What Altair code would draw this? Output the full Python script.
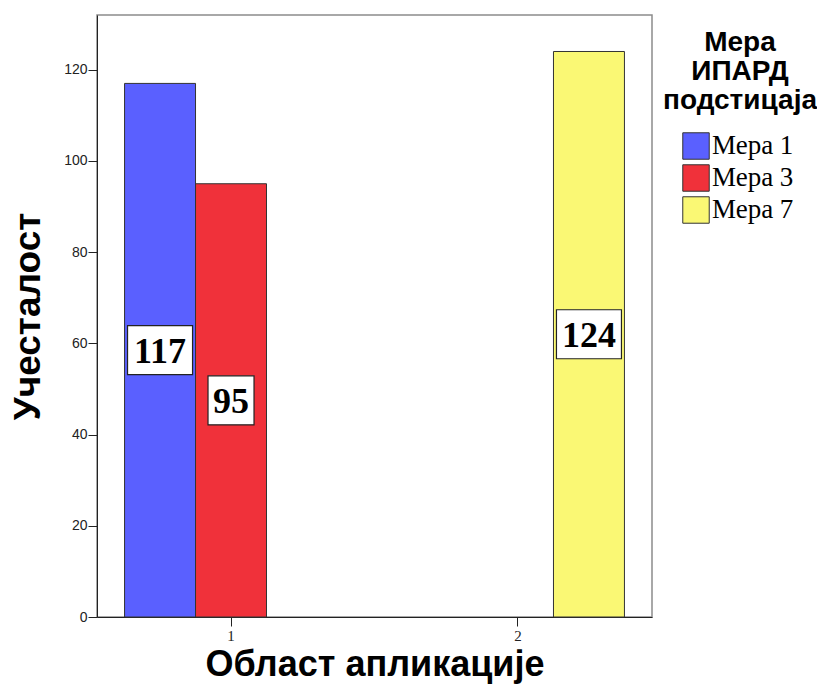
import altair as alt
import pandas as pd

# data
oblast = ["1", "1", "2"]
mera = ["Мера 1", "Мера 3", "Мера 7"]
ucestalost = [117, 95, 124]
mera_domain = ["Мера 1", "Мера 3", "Мера 7"]
mera_colors = ["#5A60FF", "#F0313A", "#FAF874"]
y_ticks = [0, 20, 40, 60, 80, 100, 120]

df = pd.DataFrame({"oblast": oblast, "mera": mera, "value": ucestalost})

x_enc = alt.X("oblast:N", title="Област апликације",
              scale=alt.Scale(paddingInner=0.258, paddingOuter=0.096),
              axis=alt.Axis(labelAngle=0, labelFont="Liberation Serif", labelFontSize=15,
                            labelColor="#222", tickSize=9, tickColor="#222",
                            domainColor="#222", labelPadding=2,
                            titleFont="Liberation Sans", titleFontSize=36,
                            titleFontWeight="bold", titleColor="#000", titlePadding=4))
xoff = alt.XOffset("mera:N", scale=alt.Scale(domain=mera_domain, paddingInner=0, paddingOuter=0))
y_scale = alt.Scale(domain=[0, 132], nice=False)

bars = alt.Chart(df).mark_bar(stroke="#333", strokeWidth=1).encode(
    x=x_enc,
    xOffset=xoff,
    y=alt.Y("value:Q", scale=y_scale, title="Учесталост",
            axis=alt.Axis(values=y_ticks, labelFont="Liberation Sans", labelFontSize=14,
                          labelColor="#222", tickSize=9, tickColor="#222", domainColor="#222",
                          labelPadding=1, grid=False,
                          titleFont="Liberation Sans", titleFontSize=37, titleFontWeight="bold",
                          titleColor="#000", titlePadding=16)),
    fill=alt.Fill("mera:N", scale=alt.Scale(domain=mera_domain, range=mera_colors),
                  legend=alt.Legend(title=["Мера", "ИПАРД", "подстицаја"], orient="none",
                                    legendX=566, legendY=14, padding=0,
                                    titleFont="Liberation Sans", titleFontSize=28,
                                    titleFontWeight="bold", titleColor="#000",
                                    titleLineHeight=29, titleAnchor="middle", titlePadding=17,
                                    symbolType="square", symbolSize=700,
                                    symbolStrokeColor="#333", symbolStrokeWidth=1,
                                    symbolOffset=-4,
                                    labelFont="Liberation Serif", labelFontSize=27,
                                    labelColor="#000", labelOffset=2, rowPadding=0)),
)

base_half = alt.Chart(df).transform_calculate(half="datum.value / 2")

box3 = base_half.transform_filter("datum.value >= 100").mark_bar(
    fill="white", stroke="#222", strokeWidth=1.2, width=65, yOffset=-24.5, y2Offset=24.5
).encode(x="oblast:N", xOffset=xoff, y=alt.Y("half:Q", scale=y_scale), y2="half:Q")

box2 = base_half.transform_filter("datum.value < 100").mark_bar(
    fill="white", stroke="#222", strokeWidth=1.2, width=46, yOffset=-24.5, y2Offset=24.5
).encode(x="oblast:N", xOffset=xoff, y=alt.Y("half:Q", scale=y_scale), y2="half:Q")

texts = base_half.mark_text(font="Liberation Serif", fontSize=36, fontWeight="bold",
                            color="#000", baseline="middle", align="center", dy=2).encode(
    x="oblast:N", xOffset=xoff, y=alt.Y("half:Q", scale=y_scale), text="value:Q")

chart = alt.layer(bars, box3, box2, texts).properties(
    width=555, height=602,
    autosize=alt.AutoSizeParams(type="none"),
    padding={"left": 89, "top": 7, "right": 165, "bottom": 68},
).configure_view(stroke="#8c8c8c", strokeWidth=1.5)

chart.save("out.html", embed_options={"renderer": "svg", "actions": False})
